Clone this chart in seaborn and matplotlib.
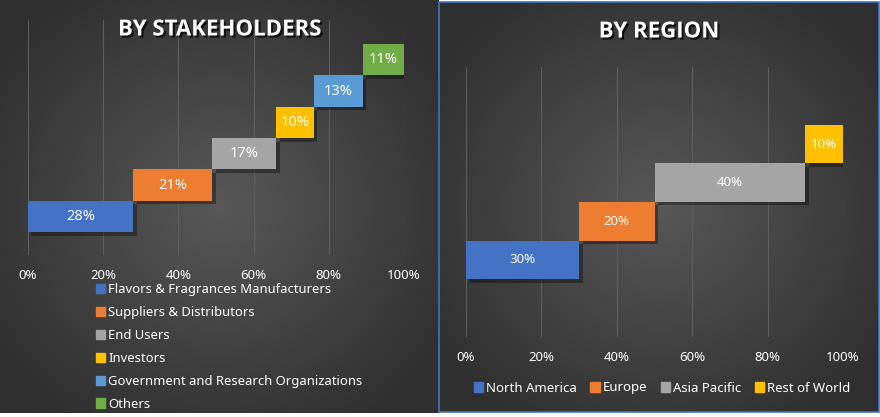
"""Gráfico waterfall de participação por stakeholders e por região."""
import matplotlib
matplotlib.use('Agg')
import matplotlib.pyplot as plt
import matplotlib.patheffects as pe
from matplotlib.patches import Rectangle
from matplotlib.ticker import PercentFormatter
import numpy as np
import seaborn as sns

# dados do gráfico
stakeholders = ['Flavors & Fragrances Manufacturers', 'Suppliers & Distributors',
                'End Users', 'Investors', 'Government and Research Organizations',
                'Others']
stake_share = [28, 21, 17, 10, 13, 11]
cores_stake = ['#4472C4', '#ED7D31', '#A5A5A5', '#FFC000', '#5B9BD5', '#70AD47']

regioes = ['North America', 'Europe', 'Asia Pacific', 'Rest of World']
regiao_share = [30, 20, 40, 10]
cores_regiao = ['#4472C4', '#ED7D31', '#A5A5A5', '#FFC000']

ticks_pct = [0, 20, 40, 60, 80, 100]

sns.set_theme(style='dark')
plt.rcParams['font.family'] = ['Noto Sans', 'DejaVu Sans']

W, H = 880, 417


def px_box(x0, y0, x1, y1):
    """converte caixa em pixels (topo-esquerda) para coordenadas da figura."""
    return [x0 / W, (H - y1) / H, (x1 - x0) / W, (y1 - y0) / H]


def fundo_radial(fig, caixa, borda=None):
    """desenha o fundo cinza com gradiente radial."""
    ax = fig.add_axes(caixa, zorder=0)
    yy, xx = np.mgrid[-1:1:200j, -1:1:200j]
    r = np.clip(np.sqrt(xx ** 2 + yy ** 2) / 1.25, 0, 1)
    centro = np.array([0x58, 0x58, 0x58]) / 255
    canto = np.array([0x2f, 0x2f, 0x2f]) / 255
    img = centro[None, None, :] * (1 - r[..., None]) + canto[None, None, :] * r[..., None]
    ax.imshow(img, extent=[0, 1, 0, 1], aspect='auto')
    ax.set_axis_off()
    if borda:
        ax.add_patch(Rectangle((0, 0), 1, 1, transform=ax.transAxes, fill=False,
                               edgecolor=borda, linewidth=1.2, clip_on=False))
    return ax


def grafico_waterfall(fig, caixa, valores, cores, ylim, fs_label):
    """barras horizontais em cascata com rótulos de percentual."""
    ax = fig.add_axes(caixa, zorder=2)
    ax.patch.set_alpha(0)
    inicio = np.concatenate([[0], np.cumsum(valores)[:-1]])
    pos = np.arange(len(valores))
    sombra = [pe.SimplePatchShadow(offset=(2.5, -2.5), shadow_rgbFace='black', alpha=0.35),
              pe.Normal()]
    barras = ax.barh(pos, valores, left=inicio, height=1.0, color=cores,
                     linewidth=0, zorder=3)
    for b in barras:
        b.set_path_effects(sombra)
    for p, v, ini in zip(pos, valores, inicio):
        ax.text(ini + v / 2, p, f'{v}%', ha='center', va='center',
                color='white', fontsize=fs_label, zorder=4)
    ax.set_xlim(0, 100)
    ax.set_ylim(*ylim)
    ax.set_xticks(ticks_pct)
    ax.xaxis.set_major_formatter(PercentFormatter(decimals=0))
    ax.set_yticks([])
    ax.grid(axis='x', color='#5f5f5f', linewidth=0.8, zorder=1)
    ax.tick_params(axis='x', colors='white', labelsize=9.5, pad=10, length=0)
    for s in ax.spines.values():
        s.set_visible(False)
    return ax


fig = plt.figure(figsize=(W / 100, H / 100), dpi=100)
fig.patch.set_facecolor('white')

# fundos dos dois painéis
fundo_radial(fig, px_box(0, 0, 438, 413))
fundo_radial(fig, px_box(439, 2, 879, 412), borda='#4472C4')

sombra_titulo = [pe.withSimplePatchShadow(offset=(1.5, -1.5), shadow_rgbFace='black', alpha=0.7)]
fonte_titulo = ['Open Sans', 'DejaVu Sans']

# painel esquerdo: stakeholders
grafico_waterfall(fig, px_box(28, 20, 404, 255), stake_share, cores_stake,
                  (-1.23, 6.27), 10.5)
fig.text(220 / W, 1 - 30 / H, 'BY STAKEHOLDERS', ha='center', va='center',
         color='white', fontsize=16, fontweight='bold', family=fonte_titulo,
         path_effects=sombra_titulo, zorder=5)

handles_stake = [Rectangle((0, 0), 1, 1, color=c) for c in cores_stake]
fig.legend(handles_stake, stakeholders, loc='upper left',
           bbox_to_anchor=(96 / W, 1 - 283 / H), frameon=False, fontsize=9.4,
           labelcolor='white', handlelength=0.7, handleheight=0.7,
           handletextpad=0.25, labelspacing=0.76, borderpad=0, borderaxespad=0)

# painel direito: região
grafico_waterfall(fig, px_box(466, 67, 843, 337), regiao_share, cores_regiao,
                  (-2, 5), 9.5)
fig.text(659 / W, 1 - 32 / H, 'BY REGION', ha='center', va='center',
         color='white', fontsize=16, fontweight='bold', family=fonte_titulo,
         path_effects=sombra_titulo, zorder=5)

handles_regiao = [Rectangle((0, 0), 1, 1, color=c) for c in cores_regiao]
fig.legend(handles_regiao, regioes, loc='center', ncol=4,
           bbox_to_anchor=(662 / W, 1 - 388 / H), frameon=False, fontsize=9.5,
           labelcolor='white', handlelength=0.7, handleheight=0.7,
           handletextpad=0.25, columnspacing=1.0, borderpad=0, borderaxespad=0)

fig.savefig('out.png', dpi=100, facecolor=fig.get_facecolor())
